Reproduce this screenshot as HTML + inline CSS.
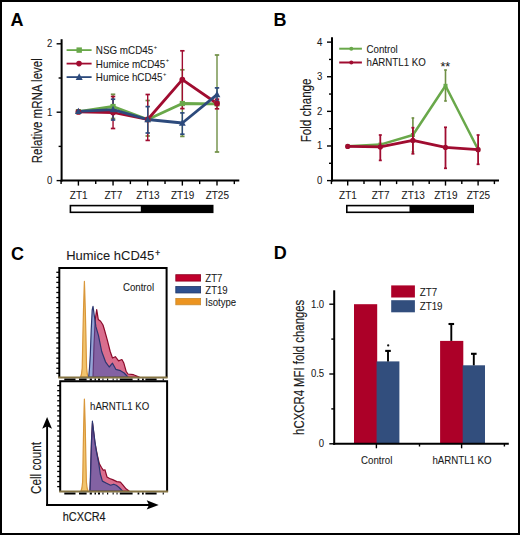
<!DOCTYPE html>
<html><head><meta charset="utf-8"><style>
html,body{margin:0;padding:0;background:#fff;}
body{width:520px;height:535px;overflow:hidden;position:relative;}
#frame{position:absolute;left:0;top:0;width:516px;height:531px;border:2px solid #000;}
svg{position:absolute;left:0;top:0;font-family:"Liberation Sans", sans-serif;}
</style></head><body><div id="frame"></div>
<svg width="520" height="535" viewBox="0 0 520 535">
<text x="10.50" y="26.00" font-size="18" text-anchor="start" font-weight="bold" fill="#000"  >A</text>
<text x="273.60" y="26.00" font-size="18" text-anchor="start" font-weight="bold" fill="#000"  >B</text>
<text x="11.10" y="260.10" font-size="18" text-anchor="start" font-weight="bold" fill="#000"  >C</text>
<text x="273.80" y="258.80" font-size="18" text-anchor="start" font-weight="bold" fill="#000"  >D</text>
<line x1="61.60" y1="39.20" x2="61.60" y2="181.60" stroke="#000" stroke-width="2" />
<line x1="60.60" y1="180.60" x2="239.30" y2="180.60" stroke="#000" stroke-width="2" />
<line x1="56.60" y1="43.80" x2="61.60" y2="43.80" stroke="#000" stroke-width="1.4" />
<line x1="56.60" y1="112.20" x2="61.60" y2="112.20" stroke="#000" stroke-width="1.4" />
<line x1="56.60" y1="180.60" x2="61.60" y2="180.60" stroke="#000" stroke-width="1.4" />
<line x1="58.60" y1="78.00" x2="61.60" y2="78.00" stroke="#000" stroke-width="1.4" />
<line x1="58.60" y1="146.40" x2="61.60" y2="146.40" stroke="#000" stroke-width="1.4" />
<text transform="translate(49.60,47.20) scale(0.9569,1)" font-size="10.03" text-anchor="middle" fill="#1a1a1a" stroke="#1a1a1a" stroke-width="0.07" >2</text>
<text transform="translate(49.60,115.60) scale(0.9569,1)" font-size="10.03" text-anchor="middle" fill="#1a1a1a" stroke="#1a1a1a" stroke-width="0.07" >1</text>
<text transform="translate(49.60,184.00) scale(0.9569,1)" font-size="10.03" text-anchor="middle" fill="#1a1a1a" stroke="#1a1a1a" stroke-width="0.07" >0</text>
<line x1="61.08" y1="180.60" x2="61.08" y2="184.10" stroke="#000" stroke-width="1.4" />
<line x1="78.40" y1="180.60" x2="78.40" y2="185.60" stroke="#000" stroke-width="1.4" />
<line x1="95.73" y1="180.60" x2="95.73" y2="184.10" stroke="#000" stroke-width="1.4" />
<line x1="113.05" y1="180.60" x2="113.05" y2="185.60" stroke="#000" stroke-width="1.4" />
<line x1="130.38" y1="180.60" x2="130.38" y2="184.10" stroke="#000" stroke-width="1.4" />
<line x1="147.70" y1="180.60" x2="147.70" y2="185.60" stroke="#000" stroke-width="1.4" />
<line x1="165.03" y1="180.60" x2="165.03" y2="184.10" stroke="#000" stroke-width="1.4" />
<line x1="182.35" y1="180.60" x2="182.35" y2="185.60" stroke="#000" stroke-width="1.4" />
<line x1="199.68" y1="180.60" x2="199.68" y2="184.10" stroke="#000" stroke-width="1.4" />
<line x1="217.00" y1="180.60" x2="217.00" y2="185.60" stroke="#000" stroke-width="1.4" />
<line x1="234.32" y1="180.60" x2="234.32" y2="184.10" stroke="#000" stroke-width="1.4" />
<text transform="translate(78.70,198.80) scale(0.9569,1)" font-size="10.45" text-anchor="middle" fill="#1a1a1a" stroke="#1a1a1a" stroke-width="0.07" >ZT1</text>
<text transform="translate(113.35,198.80) scale(0.9569,1)" font-size="10.45" text-anchor="middle" fill="#1a1a1a" stroke="#1a1a1a" stroke-width="0.07" >ZT7</text>
<text transform="translate(148.00,198.80) scale(0.9569,1)" font-size="10.45" text-anchor="middle" fill="#1a1a1a" stroke="#1a1a1a" stroke-width="0.07" >ZT13</text>
<text transform="translate(182.65,198.80) scale(0.9569,1)" font-size="10.45" text-anchor="middle" fill="#1a1a1a" stroke="#1a1a1a" stroke-width="0.07" >ZT19</text>
<text transform="translate(217.30,198.80) scale(0.9569,1)" font-size="10.45" text-anchor="middle" fill="#1a1a1a" stroke="#1a1a1a" stroke-width="0.07" >ZT25</text>
<rect x="69.60" y="204.80" width="143.90" height="8.30" fill="#000" />
<rect x="71.20" y="206.40" width="69.60" height="5.10" fill="#fff" />
<text transform="translate(41.80,110.70) rotate(-90) scale(0.824,1)" font-size="14" text-anchor="middle" fill="#1a1a1a" stroke="#1a1a1a" stroke-width="0.15">Relative mRNA level</text>
<line x1="113.05" y1="94.30" x2="113.05" y2="118.50" stroke="#6f8f45" stroke-width="1.4" />
<line x1="110.85" y1="94.30" x2="115.25" y2="94.30" stroke="#6f8f45" stroke-width="1.7" />
<line x1="110.85" y1="118.50" x2="115.25" y2="118.50" stroke="#6f8f45" stroke-width="1.7" />
<line x1="147.70" y1="100.50" x2="147.70" y2="136.00" stroke="#6f8f45" stroke-width="1.4" />
<line x1="145.50" y1="100.50" x2="149.90" y2="100.50" stroke="#6f8f45" stroke-width="1.7" />
<line x1="145.50" y1="136.00" x2="149.90" y2="136.00" stroke="#6f8f45" stroke-width="1.7" />
<line x1="182.35" y1="69.80" x2="182.35" y2="136.40" stroke="#6f8f45" stroke-width="1.4" />
<line x1="180.15" y1="69.80" x2="184.55" y2="69.80" stroke="#6f8f45" stroke-width="1.7" />
<line x1="180.15" y1="136.40" x2="184.55" y2="136.40" stroke="#6f8f45" stroke-width="1.7" />
<line x1="217.00" y1="55.00" x2="217.00" y2="152.00" stroke="#6f8f45" stroke-width="1.4" />
<line x1="214.80" y1="55.00" x2="219.20" y2="55.00" stroke="#6f8f45" stroke-width="1.7" />
<line x1="214.80" y1="152.00" x2="219.20" y2="152.00" stroke="#6f8f45" stroke-width="1.7" />
<line x1="113.05" y1="96.50" x2="113.05" y2="128.50" stroke="#a00c30" stroke-width="1.4" />
<line x1="110.85" y1="96.50" x2="115.25" y2="96.50" stroke="#a00c30" stroke-width="1.7" />
<line x1="110.85" y1="128.50" x2="115.25" y2="128.50" stroke="#a00c30" stroke-width="1.7" />
<line x1="147.70" y1="94.50" x2="147.70" y2="140.40" stroke="#a00c30" stroke-width="1.4" />
<line x1="145.50" y1="94.50" x2="149.90" y2="94.50" stroke="#a00c30" stroke-width="1.7" />
<line x1="145.50" y1="140.40" x2="149.90" y2="140.40" stroke="#a00c30" stroke-width="1.7" />
<line x1="182.35" y1="50.80" x2="182.35" y2="108.60" stroke="#a00c30" stroke-width="1.4" />
<line x1="180.15" y1="50.80" x2="184.55" y2="50.80" stroke="#a00c30" stroke-width="1.7" />
<line x1="180.15" y1="108.60" x2="184.55" y2="108.60" stroke="#a00c30" stroke-width="1.7" />
<line x1="217.00" y1="99.20" x2="217.00" y2="108.80" stroke="#a00c30" stroke-width="1.4" />
<line x1="214.80" y1="99.20" x2="219.20" y2="99.20" stroke="#a00c30" stroke-width="1.7" />
<line x1="214.80" y1="108.80" x2="219.20" y2="108.80" stroke="#a00c30" stroke-width="1.7" />
<line x1="113.05" y1="99.20" x2="113.05" y2="120.00" stroke="#2c4a7c" stroke-width="1.4" />
<line x1="110.85" y1="99.20" x2="115.25" y2="99.20" stroke="#2c4a7c" stroke-width="1.7" />
<line x1="110.85" y1="120.00" x2="115.25" y2="120.00" stroke="#2c4a7c" stroke-width="1.7" />
<line x1="147.70" y1="106.60" x2="147.70" y2="133.00" stroke="#2c4a7c" stroke-width="1.4" />
<line x1="145.50" y1="106.60" x2="149.90" y2="106.60" stroke="#2c4a7c" stroke-width="1.7" />
<line x1="145.50" y1="133.00" x2="149.90" y2="133.00" stroke="#2c4a7c" stroke-width="1.7" />
<line x1="182.35" y1="112.90" x2="182.35" y2="134.20" stroke="#2c4a7c" stroke-width="1.4" />
<line x1="180.15" y1="112.90" x2="184.55" y2="112.90" stroke="#2c4a7c" stroke-width="1.7" />
<line x1="180.15" y1="134.20" x2="184.55" y2="134.20" stroke="#2c4a7c" stroke-width="1.7" />
<line x1="217.00" y1="87.90" x2="217.00" y2="101.00" stroke="#2c4a7c" stroke-width="1.4" />
<line x1="214.80" y1="87.90" x2="219.20" y2="87.90" stroke="#2c4a7c" stroke-width="1.7" />
<line x1="214.80" y1="101.00" x2="219.20" y2="101.00" stroke="#2c4a7c" stroke-width="1.7" />
<polyline points="78.40,111.60 113.05,106.50 147.70,119.50 182.35,103.50 217.00,103.80" fill="none" stroke="#69a84a" stroke-width="2.8" stroke-linejoin="round" />
<polyline points="78.40,111.90 113.05,112.50 147.70,119.50 182.35,79.70 217.00,103.50" fill="none" stroke="#a00c30" stroke-width="2.8" stroke-linejoin="round" />
<polyline points="78.40,111.40 113.05,109.60 147.70,119.50 182.35,123.00 217.00,94.60" fill="none" stroke="#2c4a7c" stroke-width="2.8" stroke-linejoin="round" />
<rect x="75.80" y="109.00" width="5.20" height="5.20" fill="#69a84a" />
<rect x="110.45" y="103.90" width="5.20" height="5.20" fill="#69a84a" />
<rect x="145.10" y="116.90" width="5.20" height="5.20" fill="#69a84a" />
<rect x="179.75" y="100.90" width="5.20" height="5.20" fill="#69a84a" />
<rect x="214.40" y="101.20" width="5.20" height="5.20" fill="#69a84a" />
<circle cx="78.40" cy="111.90" r="2.9" fill="#a00c30"/>
<circle cx="113.05" cy="112.50" r="2.9" fill="#a00c30"/>
<circle cx="147.70" cy="119.50" r="2.9" fill="#a00c30"/>
<circle cx="182.35" cy="79.70" r="2.9" fill="#a00c30"/>
<circle cx="217.00" cy="103.50" r="2.9" fill="#a00c30"/>
<polygon points="78.40,107.66 75.00,114.12 81.80,114.12" fill="#2c4a7c"/>
<polygon points="113.05,105.86 109.65,112.32 116.45,112.32" fill="#2c4a7c"/>
<polygon points="147.70,115.76 144.30,122.22 151.10,122.22" fill="#2c4a7c"/>
<polygon points="182.35,119.26 178.95,125.72 185.75,125.72" fill="#2c4a7c"/>
<polygon points="217.00,90.86 213.60,97.32 220.40,97.32" fill="#2c4a7c"/>
<line x1="66.60" y1="50.10" x2="91.60" y2="50.10" stroke="#69a84a" stroke-width="1.8" />
<rect x="76.50" y="47.40" width="5.40" height="5.40" fill="#69a84a" />
<text transform="translate(95.80,54.00) scale(0.9569,1)" font-size="10.29" text-anchor="start" fill="#1a1a1a" stroke="#1a1a1a" stroke-width="0.07" >NSG mCD45<tspan font-size="6" dx="0.6" dy="-5.4">+</tspan></text>
<line x1="66.60" y1="63.60" x2="91.60" y2="63.60" stroke="#a00c30" stroke-width="1.8" />
<circle cx="79.00" cy="63.60" r="2.8" fill="#a00c30"/>
<text transform="translate(95.80,67.50) scale(0.9569,1)" font-size="10.29" text-anchor="start" fill="#1a1a1a" stroke="#1a1a1a" stroke-width="0.07" >Humice mCD45<tspan font-size="6" dx="0.6" dy="-5.4">+</tspan></text>
<line x1="66.60" y1="77.10" x2="91.60" y2="77.10" stroke="#2c4a7c" stroke-width="1.8" />
<polygon points="79.20,73.25 75.70,79.90 82.70,79.90" fill="#2c4a7c"/>
<text transform="translate(95.80,81.00) scale(0.9569,1)" font-size="10.29" text-anchor="start" fill="#1a1a1a" stroke="#1a1a1a" stroke-width="0.07" >Humice hCD45<tspan font-size="6" dx="0.6" dy="-5.4">+</tspan></text>
<line x1="332.00" y1="37.20" x2="332.00" y2="181.60" stroke="#000" stroke-width="2" />
<line x1="331.00" y1="180.60" x2="499.00" y2="180.60" stroke="#000" stroke-width="2" />
<line x1="327.00" y1="42.12" x2="332.00" y2="42.12" stroke="#000" stroke-width="1.4" />
<line x1="327.00" y1="76.74" x2="332.00" y2="76.74" stroke="#000" stroke-width="1.4" />
<line x1="327.00" y1="111.36" x2="332.00" y2="111.36" stroke="#000" stroke-width="1.4" />
<line x1="327.00" y1="145.98" x2="332.00" y2="145.98" stroke="#000" stroke-width="1.4" />
<line x1="327.00" y1="180.60" x2="332.00" y2="180.60" stroke="#000" stroke-width="1.4" />
<line x1="329.00" y1="59.43" x2="332.00" y2="59.43" stroke="#000" stroke-width="1.4" />
<line x1="329.00" y1="94.05" x2="332.00" y2="94.05" stroke="#000" stroke-width="1.4" />
<line x1="329.00" y1="128.67" x2="332.00" y2="128.67" stroke="#000" stroke-width="1.4" />
<line x1="329.00" y1="163.29" x2="332.00" y2="163.29" stroke="#000" stroke-width="1.4" />
<text transform="translate(319.60,45.52) scale(0.9569,1)" font-size="10.03" text-anchor="middle" fill="#1a1a1a" stroke="#1a1a1a" stroke-width="0.07" >4</text>
<text transform="translate(319.60,80.14) scale(0.9569,1)" font-size="10.03" text-anchor="middle" fill="#1a1a1a" stroke="#1a1a1a" stroke-width="0.07" >3</text>
<text transform="translate(319.60,114.76) scale(0.9569,1)" font-size="10.03" text-anchor="middle" fill="#1a1a1a" stroke="#1a1a1a" stroke-width="0.07" >2</text>
<text transform="translate(319.60,149.38) scale(0.9569,1)" font-size="10.03" text-anchor="middle" fill="#1a1a1a" stroke="#1a1a1a" stroke-width="0.07" >1</text>
<text transform="translate(319.60,184.00) scale(0.9569,1)" font-size="10.03" text-anchor="middle" fill="#1a1a1a" stroke="#1a1a1a" stroke-width="0.07" >0</text>
<line x1="331.40" y1="180.60" x2="331.40" y2="184.10" stroke="#000" stroke-width="1.4" />
<line x1="347.70" y1="180.60" x2="347.70" y2="185.60" stroke="#000" stroke-width="1.4" />
<line x1="364.00" y1="180.60" x2="364.00" y2="184.10" stroke="#000" stroke-width="1.4" />
<line x1="380.30" y1="180.60" x2="380.30" y2="185.60" stroke="#000" stroke-width="1.4" />
<line x1="396.60" y1="180.60" x2="396.60" y2="184.10" stroke="#000" stroke-width="1.4" />
<line x1="412.90" y1="180.60" x2="412.90" y2="185.60" stroke="#000" stroke-width="1.4" />
<line x1="429.20" y1="180.60" x2="429.20" y2="184.10" stroke="#000" stroke-width="1.4" />
<line x1="445.50" y1="180.60" x2="445.50" y2="185.60" stroke="#000" stroke-width="1.4" />
<line x1="461.80" y1="180.60" x2="461.80" y2="184.10" stroke="#000" stroke-width="1.4" />
<line x1="478.10" y1="180.60" x2="478.10" y2="185.60" stroke="#000" stroke-width="1.4" />
<line x1="494.40" y1="180.60" x2="494.40" y2="184.10" stroke="#000" stroke-width="1.4" />
<text transform="translate(348.00,198.80) scale(0.9569,1)" font-size="10.45" text-anchor="middle" fill="#1a1a1a" stroke="#1a1a1a" stroke-width="0.07" >ZT1</text>
<text transform="translate(380.60,198.80) scale(0.9569,1)" font-size="10.45" text-anchor="middle" fill="#1a1a1a" stroke="#1a1a1a" stroke-width="0.07" >ZT7</text>
<text transform="translate(413.20,198.80) scale(0.9569,1)" font-size="10.45" text-anchor="middle" fill="#1a1a1a" stroke="#1a1a1a" stroke-width="0.07" >ZT13</text>
<text transform="translate(445.80,198.80) scale(0.9569,1)" font-size="10.45" text-anchor="middle" fill="#1a1a1a" stroke="#1a1a1a" stroke-width="0.07" >ZT19</text>
<text transform="translate(478.40,198.80) scale(0.9569,1)" font-size="10.45" text-anchor="middle" fill="#1a1a1a" stroke="#1a1a1a" stroke-width="0.07" >ZT25</text>
<rect x="346.00" y="204.80" width="128.00" height="8.30" fill="#000" />
<rect x="347.60" y="206.40" width="61.90" height="5.10" fill="#fff" />
<text transform="translate(310.70,110.40) rotate(-90) scale(0.829,1)" font-size="14" text-anchor="middle" fill="#1a1a1a" stroke="#1a1a1a" stroke-width="0.15">Fold change</text>
<line x1="412.90" y1="118.00" x2="412.90" y2="152.00" stroke="#6f8f45" stroke-width="1.6" />
<line x1="411.60" y1="118.00" x2="414.20" y2="118.00" stroke="#6f8f45" stroke-width="1.7" />
<line x1="411.60" y1="152.00" x2="414.20" y2="152.00" stroke="#6f8f45" stroke-width="1.7" />
<line x1="445.50" y1="70.00" x2="445.50" y2="101.00" stroke="#6f8f45" stroke-width="1.6" />
<line x1="444.20" y1="70.00" x2="446.80" y2="70.00" stroke="#6f8f45" stroke-width="1.7" />
<line x1="444.20" y1="101.00" x2="446.80" y2="101.00" stroke="#6f8f45" stroke-width="1.7" />
<polyline points="347.70,146.20 380.30,144.60 412.90,135.00 445.50,85.80 478.10,149.50" fill="none" stroke="#69a84a" stroke-width="2.5" stroke-linejoin="round" />
<rect x="345.70" y="144.20" width="4.00" height="4.00" fill="#69a84a" />
<rect x="378.30" y="142.60" width="4.00" height="4.00" fill="#69a84a" />
<rect x="410.90" y="133.00" width="4.00" height="4.00" fill="#69a84a" />
<rect x="443.50" y="83.80" width="4.00" height="4.00" fill="#69a84a" />
<rect x="476.10" y="147.50" width="4.00" height="4.00" fill="#69a84a" />
<line x1="380.30" y1="135.00" x2="380.30" y2="160.40" stroke="#a00c30" stroke-width="1.8" />
<line x1="378.80" y1="135.00" x2="381.80" y2="135.00" stroke="#a00c30" stroke-width="1.7" />
<line x1="378.80" y1="160.40" x2="381.80" y2="160.40" stroke="#a00c30" stroke-width="1.7" />
<line x1="412.90" y1="127.70" x2="412.90" y2="153.80" stroke="#a00c30" stroke-width="1.8" />
<line x1="411.40" y1="127.70" x2="414.40" y2="127.70" stroke="#a00c30" stroke-width="1.7" />
<line x1="411.40" y1="153.80" x2="414.40" y2="153.80" stroke="#a00c30" stroke-width="1.7" />
<line x1="445.50" y1="127.30" x2="445.50" y2="168.30" stroke="#a00c30" stroke-width="1.8" />
<line x1="444.00" y1="127.30" x2="447.00" y2="127.30" stroke="#a00c30" stroke-width="1.7" />
<line x1="444.00" y1="168.30" x2="447.00" y2="168.30" stroke="#a00c30" stroke-width="1.7" />
<line x1="478.10" y1="135.00" x2="478.10" y2="164.30" stroke="#a00c30" stroke-width="1.8" />
<line x1="476.60" y1="135.00" x2="479.60" y2="135.00" stroke="#a00c30" stroke-width="1.7" />
<line x1="476.60" y1="164.30" x2="479.60" y2="164.30" stroke="#a00c30" stroke-width="1.7" />
<polyline points="347.70,146.40 380.30,146.90 412.90,140.40 445.50,147.40 478.10,149.70" fill="none" stroke="#a00c30" stroke-width="2.7" stroke-linejoin="round" />
<circle cx="347.70" cy="146.40" r="2.6" fill="#a00c30"/>
<circle cx="380.30" cy="146.90" r="2.6" fill="#a00c30"/>
<circle cx="412.90" cy="140.40" r="2.6" fill="#a00c30"/>
<circle cx="445.50" cy="147.40" r="2.6" fill="#a00c30"/>
<circle cx="478.10" cy="149.70" r="2.6" fill="#a00c30"/>
<text transform="translate(445.30,70.60) scale(0.9569,1)" font-size="13.06" text-anchor="middle" fill="#1a1a1a" stroke="#1a1a1a" stroke-width="0.07" >**</text>
<line x1="339.20" y1="48.70" x2="361.90" y2="48.70" stroke="#69a84a" stroke-width="2" />
<circle cx="351.30" cy="48.70" r="2" fill="#69a84a"/>
<text transform="translate(366.50,52.60) scale(0.9569,1)" font-size="10.14" text-anchor="start" fill="#1a1a1a" stroke="#1a1a1a" stroke-width="0.07" >Control</text>
<line x1="339.20" y1="62.50" x2="361.90" y2="62.50" stroke="#a00c30" stroke-width="2" />
<circle cx="351.30" cy="62.50" r="2" fill="#a00c30"/>
<text transform="translate(366.50,66.40) scale(0.9569,1)" font-size="10.14" text-anchor="start" fill="#1a1a1a" stroke="#1a1a1a" stroke-width="0.07" >hARNTL1 KO</text>
<text transform="translate(66.20,259.80) scale(0.9569,1)" font-size="13.58" text-anchor="start" fill="#1a1a1a" stroke="#1a1a1a" stroke-width="0.07" >Humice hCD45<tspan font-size="8.6" dx="1.0" dy="-3.7" stroke="#1a1a1a" stroke-width="0.3">+</tspan></text>
<polyline points="59.3,377.6 59.3,268 166.6,268 166.6,377.6" fill="none" stroke="#000" stroke-width="2"/>
<polyline points="60.2,491.6 60.2,381.3 167.1,381.3 167.1,491.6" fill="none" stroke="#000" stroke-width="2"/>
<text transform="translate(122.90,290.60) scale(0.9569,1)" font-size="10.14" text-anchor="start" fill="#1a1a1a" stroke="#1a1a1a" stroke-width="0.07" >Control</text>
<text transform="translate(90.00,409.60) scale(0.9569,1)" font-size="10.14" text-anchor="start" fill="#1a1a1a" stroke="#1a1a1a" stroke-width="0.07" >hARNTL1 KO</text>
<path d="M80.6,377.0 L81.5,374.0 L82.2,368.0 L82.5,355.0 L82.9,335.0 L83.5,310.0 L84.1,290.0 L84.4,281.4 L84.7,290.0 L85.3,310.0 L85.9,335.0 L86.3,355.0 L86.6,368.0 L87.3,374.0 L88.2,377.0 Z" fill="#f1c46e" stroke="#d9973a" stroke-width="1.2" stroke-linejoin="round"/>
<path d="M93.0,377.0 L94.0,345.0 L95.2,320.0 L96.7,309.6 L98.3,319.6 L100.6,321.2 L103.0,325.0 L104.5,330.0 L107.4,340.3 L110.2,351.5 L112.5,358.0 L115.3,356.7 L118.6,360.9 L121.9,359.5 L123.7,362.7 L126.1,371.2 L127.9,374.0 L133.5,374.7 L139.2,377.0 Z" fill="rgba(202,48,94,0.7)" stroke="#8a0a2a" stroke-width="1.2" stroke-linejoin="round"/>
<path d="M88.7,377.0 L89.5,368.0 L90.3,355.0 L91.2,330.0 L92.2,310.0 L93.0,306.4 L94.3,315.6 L95.9,326.7 L98.5,335.6 L101.7,351.5 L105.5,361.8 L109.2,367.0 L112.5,363.2 L115.8,369.3 L120.5,370.7 L124.2,373.0 L127.9,377.0 Z" fill="rgba(60,90,180,0.55)" stroke="#2c3670" stroke-width="1.2" stroke-linejoin="round"/>
<path d="M81.0,491.0 L81.9,488.0 L82.6,482.0 L82.9,469.0 L83.2,450.0 L83.7,425.0 L84.1,408.0 L84.4,399.1 L84.7,408.0 L85.2,425.0 L85.7,450.0 L86.1,469.0 L86.4,482.0 L87.1,488.0 L88.0,491.0 Z" fill="#f1c46e" stroke="#d9973a" stroke-width="1.2" stroke-linejoin="round"/>
<path d="M90.2,491.0 L90.8,470.0 L91.5,440.0 L92.5,423.0 L94.8,442.0 L97.5,456.0 L99.3,463.6 L101.5,467.5 L103.4,470.3 L105.0,469.8 L107.0,477.0 L109.6,478.5 L112.7,479.6 L116.8,481.6 L120.4,482.1 L123.0,485.2 L126.0,488.8 L129.1,491.0 Z" fill="rgba(202,48,94,0.7)" stroke="#8a0a2a" stroke-width="1.2" stroke-linejoin="round"/>
<path d="M89.8,491.0 L90.3,480.0 L90.9,460.0 L91.6,440.0 L92.4,421.2 L93.5,430.0 L95.0,442.0 L96.2,450.3 L98.8,463.6 L100.3,474.0 L102.4,481.1 L106.5,483.2 L110.6,485.2 L113.7,484.2 L116.3,485.2 L118.8,487.3 L121.4,489.8 L122.5,491.0 Z" fill="rgba(60,90,180,0.55)" stroke="#2c3670" stroke-width="1.2" stroke-linejoin="round"/>
<line x1="58.30" y1="377.50" x2="167.60" y2="377.50" stroke="#857443" stroke-width="1.8" />
<rect x="64.30" y="378.60" width="11.20" height="1.90" fill="#000" />
<rect x="79.00" y="378.60" width="7.60" height="1.90" fill="#000" />
<rect x="89.70" y="378.60" width="2.20" height="1.90" fill="#000" />
<rect x="94.50" y="378.60" width="1.50" height="1.90" fill="#000" />
<rect x="98.00" y="378.60" width="2.00" height="1.90" fill="#000" />
<rect x="102.40" y="378.60" width="1.10" height="1.90" fill="#000" />
<rect x="107.00" y="378.60" width="1.20" height="1.90" fill="#000" />
<rect x="112.60" y="378.60" width="1.10" height="1.90" fill="#000" />
<rect x="116.50" y="378.60" width="1.10" height="1.90" fill="#000" />
<rect x="119.80" y="378.60" width="12.80" height="1.90" fill="#000" />
<rect x="137.60" y="378.60" width="1.70" height="1.90" fill="#000" />
<rect x="142.00" y="378.60" width="1.80" height="1.90" fill="#000" />
<rect x="145.40" y="378.60" width="11.20" height="1.90" fill="#000" />
<rect x="162.70" y="378.60" width="1.10" height="1.90" fill="#000" />
<line x1="56.30" y1="272.30" x2="59.30" y2="272.30" stroke="#000" stroke-width="1.3" />
<line x1="56.30" y1="277.35" x2="59.30" y2="277.35" stroke="#000" stroke-width="1.3" />
<line x1="56.30" y1="282.40" x2="59.30" y2="282.40" stroke="#000" stroke-width="1.3" />
<line x1="56.30" y1="287.45" x2="59.30" y2="287.45" stroke="#000" stroke-width="1.3" />
<line x1="56.30" y1="292.50" x2="59.30" y2="292.50" stroke="#000" stroke-width="1.3" />
<line x1="56.30" y1="297.55" x2="59.30" y2="297.55" stroke="#000" stroke-width="1.3" />
<line x1="56.30" y1="302.60" x2="59.30" y2="302.60" stroke="#000" stroke-width="1.3" />
<line x1="56.30" y1="307.65" x2="59.30" y2="307.65" stroke="#000" stroke-width="1.3" />
<line x1="56.30" y1="312.70" x2="59.30" y2="312.70" stroke="#000" stroke-width="1.3" />
<line x1="56.30" y1="317.75" x2="59.30" y2="317.75" stroke="#000" stroke-width="1.3" />
<line x1="56.30" y1="322.80" x2="59.30" y2="322.80" stroke="#000" stroke-width="1.3" />
<line x1="56.30" y1="327.85" x2="59.30" y2="327.85" stroke="#000" stroke-width="1.3" />
<line x1="56.30" y1="332.90" x2="59.30" y2="332.90" stroke="#000" stroke-width="1.3" />
<line x1="56.30" y1="337.95" x2="59.30" y2="337.95" stroke="#000" stroke-width="1.3" />
<line x1="56.30" y1="343.00" x2="59.30" y2="343.00" stroke="#000" stroke-width="1.3" />
<line x1="56.30" y1="348.05" x2="59.30" y2="348.05" stroke="#000" stroke-width="1.3" />
<line x1="56.30" y1="353.10" x2="59.30" y2="353.10" stroke="#000" stroke-width="1.3" />
<line x1="56.30" y1="358.15" x2="59.30" y2="358.15" stroke="#000" stroke-width="1.3" />
<line x1="56.30" y1="363.20" x2="59.30" y2="363.20" stroke="#000" stroke-width="1.3" />
<line x1="56.30" y1="368.25" x2="59.30" y2="368.25" stroke="#000" stroke-width="1.3" />
<line x1="56.30" y1="373.30" x2="59.30" y2="373.30" stroke="#000" stroke-width="1.3" />
<line x1="59.20" y1="491.50" x2="168.10" y2="491.50" stroke="#857443" stroke-width="1.8" />
<rect x="64.30" y="492.60" width="11.20" height="1.90" fill="#000" />
<rect x="79.00" y="492.60" width="7.60" height="1.90" fill="#000" />
<rect x="89.70" y="492.60" width="2.20" height="1.90" fill="#000" />
<rect x="94.50" y="492.60" width="1.50" height="1.90" fill="#000" />
<rect x="98.00" y="492.60" width="2.00" height="1.90" fill="#000" />
<rect x="102.40" y="492.60" width="1.10" height="1.90" fill="#000" />
<rect x="107.00" y="492.60" width="1.20" height="1.90" fill="#000" />
<rect x="112.60" y="492.60" width="1.10" height="1.90" fill="#000" />
<rect x="116.50" y="492.60" width="1.10" height="1.90" fill="#000" />
<rect x="119.80" y="492.60" width="12.80" height="1.90" fill="#000" />
<rect x="137.60" y="492.60" width="1.70" height="1.90" fill="#000" />
<rect x="142.00" y="492.60" width="1.80" height="1.90" fill="#000" />
<rect x="145.40" y="492.60" width="11.20" height="1.90" fill="#000" />
<rect x="162.70" y="492.60" width="1.10" height="1.90" fill="#000" />
<line x1="57.20" y1="385.60" x2="60.20" y2="385.60" stroke="#000" stroke-width="1.3" />
<line x1="57.20" y1="390.65" x2="60.20" y2="390.65" stroke="#000" stroke-width="1.3" />
<line x1="57.20" y1="395.70" x2="60.20" y2="395.70" stroke="#000" stroke-width="1.3" />
<line x1="57.20" y1="400.75" x2="60.20" y2="400.75" stroke="#000" stroke-width="1.3" />
<line x1="57.20" y1="405.80" x2="60.20" y2="405.80" stroke="#000" stroke-width="1.3" />
<line x1="57.20" y1="410.85" x2="60.20" y2="410.85" stroke="#000" stroke-width="1.3" />
<line x1="57.20" y1="415.90" x2="60.20" y2="415.90" stroke="#000" stroke-width="1.3" />
<line x1="57.20" y1="420.95" x2="60.20" y2="420.95" stroke="#000" stroke-width="1.3" />
<line x1="57.20" y1="426.00" x2="60.20" y2="426.00" stroke="#000" stroke-width="1.3" />
<line x1="57.20" y1="431.05" x2="60.20" y2="431.05" stroke="#000" stroke-width="1.3" />
<line x1="57.20" y1="436.10" x2="60.20" y2="436.10" stroke="#000" stroke-width="1.3" />
<line x1="57.20" y1="441.15" x2="60.20" y2="441.15" stroke="#000" stroke-width="1.3" />
<line x1="57.20" y1="446.20" x2="60.20" y2="446.20" stroke="#000" stroke-width="1.3" />
<line x1="57.20" y1="451.25" x2="60.20" y2="451.25" stroke="#000" stroke-width="1.3" />
<line x1="57.20" y1="456.30" x2="60.20" y2="456.30" stroke="#000" stroke-width="1.3" />
<line x1="57.20" y1="461.35" x2="60.20" y2="461.35" stroke="#000" stroke-width="1.3" />
<line x1="57.20" y1="466.40" x2="60.20" y2="466.40" stroke="#000" stroke-width="1.3" />
<line x1="57.20" y1="471.45" x2="60.20" y2="471.45" stroke="#000" stroke-width="1.3" />
<line x1="57.20" y1="476.50" x2="60.20" y2="476.50" stroke="#000" stroke-width="1.3" />
<line x1="57.20" y1="481.55" x2="60.20" y2="481.55" stroke="#000" stroke-width="1.3" />
<line x1="57.20" y1="486.60" x2="60.20" y2="486.60" stroke="#000" stroke-width="1.3" />
<rect x="175.80" y="274.70" width="24.80" height="6.40" fill="#c0002c" stroke="#8a0020" stroke-width="0.8"/>
<text transform="translate(205.30,282.10) scale(0.9569,1)" font-size="10.03" text-anchor="start" fill="#1a1a1a" stroke="#1a1a1a" stroke-width="0.07" >ZT7</text>
<rect x="175.80" y="286.55" width="24.80" height="6.40" fill="#2d5090" stroke="#1e3466" stroke-width="0.8"/>
<text transform="translate(205.30,293.95) scale(0.9569,1)" font-size="10.03" text-anchor="start" fill="#1a1a1a" stroke="#1a1a1a" stroke-width="0.07" >ZT19</text>
<rect x="175.80" y="298.40" width="24.80" height="6.40" fill="#ec9420" stroke="#c88a30" stroke-width="0.8"/>
<text transform="translate(205.30,305.80) scale(0.9569,1)" font-size="10.03" text-anchor="start" fill="#1a1a1a" stroke="#1a1a1a" stroke-width="0.07" >Isotype</text>
<line x1="47.10" y1="424.00" x2="47.10" y2="505.90" stroke="#000" stroke-width="1.9" />
<line x1="46.15" y1="504.90" x2="150.00" y2="504.90" stroke="#000" stroke-width="2.0" />
<polygon points="47.1,417 52,428.7 47.1,426.3 42.2,428.7" fill="#000"/>
<polygon points="158.7,504.9 146.7,509.5 149.0,504.9 146.7,500.3" fill="#000"/>
<text transform="translate(40.50,468.00) rotate(-90) scale(0.85,1)" font-size="13.8" text-anchor="middle" fill="#1a1a1a" stroke="#1a1a1a" stroke-width="0.15">Cell count</text>
<text transform="translate(62.8,521.1) scale(0.8,1)" font-size="13.6" fill="#1a1a1a" stroke="#1a1a1a" stroke-width="0.2">hCXCR4</text>
<rect x="354.00" y="304.20" width="23.20" height="139.60" fill="#ac0028" />
<rect x="376.60" y="361.40" width="22.80" height="82.40" fill="#324e7d" />
<rect x="440.10" y="340.90" width="23.20" height="102.90" fill="#ac0028" />
<rect x="462.70" y="365.30" width="22.30" height="78.50" fill="#324e7d" />
<line x1="388.00" y1="350.90" x2="388.00" y2="361.40" stroke="#000" stroke-width="1.9" />
<line x1="385.20" y1="350.90" x2="390.80" y2="350.90" stroke="#000" stroke-width="2.1" />
<line x1="451.30" y1="324.00" x2="451.30" y2="340.90" stroke="#000" stroke-width="1.9" />
<line x1="448.50" y1="324.00" x2="454.10" y2="324.00" stroke="#000" stroke-width="2.1" />
<line x1="473.80" y1="353.80" x2="473.80" y2="365.30" stroke="#000" stroke-width="1.9" />
<line x1="471.00" y1="353.80" x2="476.60" y2="353.80" stroke="#000" stroke-width="2.1" />
<line x1="334.20" y1="290.30" x2="334.20" y2="444.80" stroke="#000" stroke-width="2" />
<line x1="333.20" y1="443.80" x2="508.80" y2="443.80" stroke="#000" stroke-width="2" />
<line x1="329.30" y1="443.80" x2="334.20" y2="443.80" stroke="#000" stroke-width="1.4" />
<line x1="329.30" y1="374.00" x2="334.20" y2="374.00" stroke="#000" stroke-width="1.4" />
<line x1="329.30" y1="304.20" x2="334.20" y2="304.20" stroke="#000" stroke-width="1.4" />
<line x1="331.30" y1="408.90" x2="334.20" y2="408.90" stroke="#000" stroke-width="1.4" />
<line x1="331.30" y1="339.10" x2="334.20" y2="339.10" stroke="#000" stroke-width="1.4" />
<text transform="translate(324.20,447.20) scale(0.9569,1)" font-size="10.03" text-anchor="end" fill="#1a1a1a" stroke="#1a1a1a" stroke-width="0.07" >0</text>
<text transform="translate(324.20,377.40) scale(0.9569,1)" font-size="10.03" text-anchor="end" fill="#1a1a1a" stroke="#1a1a1a" stroke-width="0.07" >0.5</text>
<text transform="translate(324.20,307.60) scale(0.9569,1)" font-size="10.03" text-anchor="end" fill="#1a1a1a" stroke="#1a1a1a" stroke-width="0.07" >1.0</text>
<line x1="376.40" y1="443.80" x2="376.40" y2="448.30" stroke="#000" stroke-width="1.4" />
<line x1="461.60" y1="443.80" x2="461.60" y2="448.30" stroke="#000" stroke-width="1.4" />
<line x1="419.50" y1="443.80" x2="419.50" y2="446.50" stroke="#000" stroke-width="1.4" />
<line x1="504.40" y1="443.80" x2="504.40" y2="446.50" stroke="#000" stroke-width="1.4" />
<circle cx="388.2" cy="345.4" r="1.15" fill="#111"/>
<text transform="translate(304.40,367.30) rotate(-90) scale(0.812,1)" font-size="14" text-anchor="middle" fill="#1a1a1a" stroke="#1a1a1a" stroke-width="0.15">hCXCR4 MFI fold changes</text>
<text transform="translate(376.70,463.60) scale(0.9569,1)" font-size="10.14" text-anchor="middle" fill="#1a1a1a" stroke="#1a1a1a" stroke-width="0.07" >Control</text>
<text transform="translate(462.00,463.60) scale(0.9569,1)" font-size="10.14" text-anchor="middle" fill="#1a1a1a" stroke="#1a1a1a" stroke-width="0.07" >hARNTL1 KO</text>
<rect x="391.20" y="285.40" width="23.70" height="12.10" fill="#ac0028" />
<rect x="391.20" y="300.20" width="23.70" height="12.10" fill="#324e7d" />
<text transform="translate(419.70,295.60) scale(0.9569,1)" font-size="10.24" text-anchor="start" fill="#1a1a1a" stroke="#1a1a1a" stroke-width="0.07" >ZT7</text>
<text transform="translate(419.70,310.40) scale(0.9569,1)" font-size="10.24" text-anchor="start" fill="#1a1a1a" stroke="#1a1a1a" stroke-width="0.07" >ZT19</text>
</svg></body></html>
